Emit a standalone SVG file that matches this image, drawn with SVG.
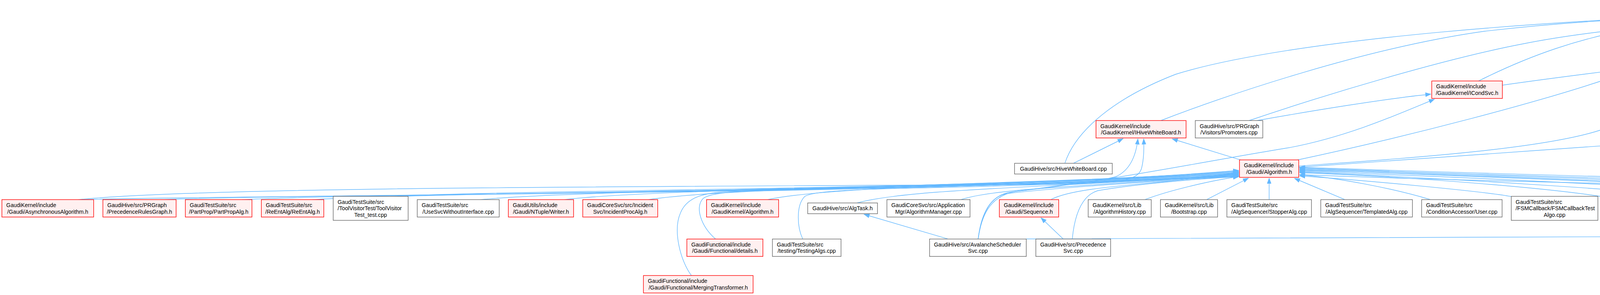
<svg xmlns="http://www.w3.org/2000/svg" width="6476" height="755" viewBox="0 0 6476 755">
<defs>
<marker id="a" markerUnits="userSpaceOnUse" markerWidth="15" markerHeight="11" refX="13.5" refY="5" orient="auto" overflow="visible"><path d="M0,0 L13.5,5 L0,10 Z" fill="#63b8ff" stroke="#63b8ff" stroke-width="1"/></marker>
<style>
.e path{fill:none;stroke:#63b8ff;stroke-width:1.4;marker-end:url(#a)}
rect{stroke-width:1.4}
.w rect{fill:#ffffff;stroke:#666666}
.r rect{fill:#fff0f0;stroke:#ff0000}
.g rect{fill:#999999;stroke:#666666}
text{font-family:"Liberation Sans",Arial,Helvetica,sans-serif;font-size:14.2px;fill:#000000}
.m{text-anchor:middle}
</style>
</defs>
<rect width="6476" height="755" fill="#ffffff"/>
<g id="edges" class="e">
<path d="M206,510.9 C651,499 2133,499 3171,452"/>
<path d="M200,510.9 C500,480 1500,478 2700,472 C2870,468 2912,462 2922,432 C2928,410 2929,385 2928,355.5"/>
<path d="M411,510.9 C825,496 2205,496 3171,450"/>
<path d="M620,510.9 C1003,493 2278,493 3171,448"/>
<path d="M800,510.9 C1156,490 2341,490 3171,446"/>
<path d="M1000,502.5 C1326,486 2411,486 3171,444"/>
<path d="M1230,510.9 C1521,483 2492,483 3171,442"/>
<path d="M1445,510.9 C1704,480 2567,480 3171,440"/>
<path d="M1660,510.9 C1887,476 2642,476 3171,438"/>
<path d="M1965,510.9 C2146,472 2749,472 3171,436"/>
<path d="M1770,705.2 C1742,668 1722,590 1742,545 C1758,505 1800,493 1870,490 C2300,482 2800,468 3171,450"/>
<path d="M1832,611.7 C1795,580 1778,530 1800,508 C1820,492 1900,488 2000,486 C2400,480 2900,465 3171,448"/>
<path d="M2055,611.7 C2040,580 2038,525 2060,503 C2080,488 2200,484 2400,480 C2700,474 3000,460 3171,446"/>
<path d="M2194,519.5 C2341,478 2829,478 3171,444"/>
<path d="M2460,510.9 C2567,475 2922,475 3171,442"/>
<path d="M2690,510.9 C2762,472 3003,472 3171,440"/>
<path d="M2931,510.9 C2990,488 3100,462 3171,452"/>
<path d="M3089,510.9 L3196,456"/>
<path d="M2504,611.7 C2510,560 2528,506 2575,496 C2700,480 3000,462 3171,450"/>
<path d="M2745,611.7 C2750,560 2765,502 2810,488 C2900,472 3060,458 3171,452"/>
<path d="M2427,611.7 L2212,548.5"/>
<path d="M2722,611.7 L2665,557.5"/>
<path d="M2504,611.7 C2512,555 2532,502 2600,490 C2850,462 3100,410 3300,378 C3450,350 3580,292 3672,254"/>
<path d="M2504,611.7 C2512,555 2530,505 2580,493 C2700,476 2820,463 2857,452 C2892,436 2908,400 2913,355.5"/>
<path d="M2748,417.9 L2875,355"/>
<path d="M2726,417.9 C2755,330 2860,248 3010,190 C3300,100 4000,45 4602,32"/>
<path d="M3176,409.3 L3001,355.5"/>
<path d="M2972,308.5 C3150,240 3500,122 3800,80 C4100,45 4400,38 4602,38"/>
<path d="M3198,308.5 C3400,240 3700,150 3900,112 C4100,72 4400,50 4602,44"/>
<path d="M3218,308.5 C3350,285 3550,252 3663,241"/>
<path d="M3322,409.3 C3600,350 3950,260 4150,190 C4350,120 4500,72 4602,50"/>
<path d="M3785,207.3 C3880,160 4050,82 4300,57 C4450,46 4550,46 4602,46"/>
<path d="M3846,218 C4000,196 4300,158 4461,143"/>
<path d="M3325,425 C3600,405 3950,382 4100,332 C4250,282 4420,200 4500,153"/>
<path d="M3325,428 C3700,402 4200,366 4572,340"/>
<path d="M4592,106.3 L4664,52"/>
<path d="M4690,300.1 L4697,52"/>
<path d="M4840,207.3 L4721,52"/>
<path d="M4670,300.1 L4578,153"/>
<path d="M4740,300.1 L4816,254"/>
<path d="M4792,207.3 L4641,153"/>
<path d="M4987,300.1 L4910,254"/>
<path d="M5035,300.1 C5020,215 4900,120 4766,52"/>
<path d="M5204,308.5 C5120,290 5040,270 4966,254"/>
<path d="M5270,308.5 C5180,230 5000,110 4790,50"/>
<path d="M4578,412 C4450,360 4390,220 4430,130 C4460,82 4540,56 4602,48"/>
<path d="M4578,408 C4500,370 4480,250 4540,153"/>
<path d="M4749,409.3 C4815,380 4850,320 4856,254"/>
<path d="M4792,412 C4840,395 4895,375 4935,363"/>
<path d="M5372,425 C5100,412 4750,392 4592,372 C4528,358 4522,250 4548,153"/>
<path d="M5372,420 C5150,405 4950,372 4805,352"/>
<path d="M5372,422 C5150,406 4960,390 4915,358 C4885,330 4868,292 4864,255"/>
<path d="M5457,409.3 C5452,340 5425,290 5390,262 C5250,160 5000,62 4794,40"/>
<path d="M5543,101 C5300,75 5000,45 4794,33"/>
<path d="M5824,106.3 C5790,97 5750,93 5700,90 C5400,72 5100,45 4794,28"/>
<path d="M5816,227 C5650,215 5540,182 5500,132 C5460,85 5100,52 4794,38"/>
<path d="M6335,519.5 C6250,440 6100,330 5964,254"/>
<path d="M6288,519.5 C6100,500 5700,492 5200,487 C4500,480 3700,462 3327,447"/>
<path d="M3662,510.9 C3560,480 3420,455 3327,447"/>
<path d="M3443,510.9 L3314,456.5"/>
<path d="M3249,510.9 L3249,456"/>
<path d="M3869,503 C3800,490 3500,462 3327,450"/>
<path d="M4145,510.9 C4000,482 3600,452 3327,442"/>
<path d="M4399,510.9 C4250,490 3700,456 3327,440"/>
<path d="M4633,510.9 C4450,486 3800,455 3327,438"/>
<path d="M4884,510.9 C4700,486 3900,451 3327,436"/>
<path d="M5227,611.7 C5180,580 5150,522 5100,505 C4700,486 3800,455 3327,434"/>
<path d="M5207,510.9 C5000,486 3900,453 3327,432"/>
<path d="M5583,510.9 C5400,489 4000,456 3327,430"/>
<path d="M5836,510.9 C5600,487 4100,456 3327,428"/>
<path d="M5456,510.9 L5456,456"/>
<path d="M5612,510.9 L5508,456.5"/>
<path d="M5855,510.9 C5750,480 5620,460 5542,450"/>
<path d="M6022,510.9 C5900,476 5680,449 5542,440"/>
<path d="M5308,510.9 L5404,456.5"/>
<path d="M5265,611.7 L5265,557.5"/>
<path d="M5357,633 C5500,628 5700,612 5770,572 C5806,545 5795,492 5742,479 C5680,466 5600,455 5542,447"/>
<path d="M2627,611.5 C3500,609 5500,602 6100,590 C6185,585 6205,530 6192,502 C6165,458 5950,432 5700,406 C5450,382 5250,368 5160,362"/>
<path d="M5862,510.9 C5800,470 5500,422 5300,396 C5230,386 5190,373 5160,364"/>
<path d="M6040,510.9 C5950,462 5600,422 5350,396 C5250,384 5200,373 5160,365"/>
<path d="M5583,510.9 C5300,500 4700,472 4572,456 C4478,432 4460,322 4527,153"/>
</g>
<g id="n_root" class="g"><rect x="4604.4" y="5.1" width="187.7" height="44.6"/><text x="4615.7" y="24.2">GaudiKernel/include</text><text class="m" x="4698.3" y="40.8">/GaudiKernel/DataObjID.h</text></g>
<g id="n_datahandle" class="r"><rect x="4463.3" y="106.3" width="198" height="44.6"/><text x="4474.6" y="125.4">GaudiKernel/include</text><text class="m" x="4562.3" y="142">/GaudiKernel/DataHandle.h</text></g>
<g id="n_renounce" class="r"><rect x="5542.9" y="97.6" width="238.6" height="61.4"/><text x="5554.2" y="116.8">GaudiKernel/include</text><text x="5554.2" y="133.4">/GaudiKernel/RenounceToolInputs</text><text class="m" x="5662.2" y="150">Visitor.h</text></g>
<g id="n_dataobjidcpp" class="w"><rect x="5805.3" y="106.3" width="146.7" height="44.6"/><text x="5816.6" y="125.4">GaudiKernel/src/Lib</text><text class="m" x="5878.6" y="142">/DataObjID.cpp</text></g>
<g id="n_icondsvc" class="r"><rect x="3665.3" y="207.3" width="180.8" height="44.6"/><text x="3676.6" y="226.4">GaudiKernel/include</text><text class="m" x="3755.7" y="243">/GaudiKernel/ICondSvc.h</text></g>
<g id="n_idhh" class="r"><rect x="4735.3" y="207.3" width="243.5" height="44.6"/><text x="4746.6" y="226.4">GaudiKernel/include</text><text class="m" x="4857" y="243">/GaudiKernel/IDataHandleHolder.h</text></g>
<g id="n_idatabroker" class="w"><rect x="5816.3" y="207.3" width="196.5" height="44.6"/><text x="5827.6" y="226.4">GaudiKernel/include</text><text class="m" x="5914.5" y="243">/GaudiKernel/IDataBroker.h</text></g>
<g id="n_ihwb" class="r"><rect x="2805.7" y="308.5" width="230.7" height="44.6"/><text x="2817" y="327.6">GaudiKernel/include</text><text class="m" x="2921" y="344.2">/GaudiKernel/IHiveWhiteBoard.h</text></g>
<g id="n_promoters" class="w"><rect x="3059.9" y="308.5" width="172.8" height="44.6"/><text x="3071.2" y="327.6">GaudiHive/src/PRGraph</text><text class="m" x="3146.3" y="344.2">/Visitors/Promoters.cpp</text></g>
<g id="n_dhhbase" class="w"><rect x="4574.8" y="300.1" width="228.3" height="61.4"/><text x="4586.1" y="319.3">GaudiKernel/include</text><text x="4586.1" y="335.9">/GaudiKernel/DataHandleHolder</text><text class="m" x="4689" y="352.5">Base.h</text></g>
<g id="n_dhhvisitor" class="w"><rect x="4929.6" y="300.1" width="228.3" height="61.4"/><text x="4940.9" y="319.3">GaudiKernel/include</text><text x="4940.9" y="335.9">/GaudiKernel/DataHandleHolder</text><text class="m" x="5043.8" y="352.5">Visitor.h</text></g>
<g id="n_dhfinder" class="r"><rect x="5181.3" y="308.5" width="236.6" height="44.6"/><text x="5192.6" y="327.6">GaudiKernel/include</text><text class="m" x="5299.6" y="344.2">/GaudiKernel/DataHandleFinder.h</text></g>
<g id="n_hivewbcpp" class="w"><rect x="2597.3" y="417.9" width="250.1" height="27.5"/><text class="m" x="2722.4" y="436.7">GaudiHive/src/HiveWhiteBoard.cpp</text></g>
<g id="n_gaudialg" class="r"><rect x="3173.1" y="409.3" width="151.6" height="44.6"/><text x="3184.4" y="428.4">GaudiKernel/include</text><text class="m" x="3248.9" y="445">/Gaudi/Algorithm.h</text></g>
<g id="n_dhhvcpp" class="w"><rect x="4578.3" y="409.3" width="213.5" height="44.6"/><text x="4589.6" y="428.4">GaudiKernel/src/Lib</text><text class="m" x="4685" y="445">/DataHandleHolderVisitor.cpp</text></g>
<g id="n_algtoolh" class="r"><rect x="5372" y="409.3" width="167.5" height="44.6"/><text x="5383.3" y="428.4">GaudiKernel/include</text><text class="m" x="5455.8" y="445">/GaudiKernel/AlgTool.h</text></g>
<g id="n_async" class="r"><rect x="4.8" y="510.9" width="234.9" height="44.6"/><text x="16.1" y="530">GaudiKernel/include</text><text class="m" x="122.3" y="546.6">/Gaudi/AsynchronousAlgorithm.h</text></g>
<g id="n_prgraph" class="r"><rect x="263.4" y="510.9" width="187.4" height="44.6"/><text x="274.7" y="530">GaudiHive/src/PRGraph</text><text class="m" x="357.1" y="546.6">/PrecedenceRulesGraph.h</text></g>
<g id="n_partprop" class="r"><rect x="474.5" y="510.9" width="170.5" height="44.6"/><text x="485.8" y="530">GaudiTestSuite/src</text><text class="m" x="559.8" y="546.6">/PartProp/PartPropAlg.h</text></g>
<g id="n_reent" class="r"><rect x="669.1" y="510.9" width="159.8" height="44.6"/><text x="680.4" y="530">GaudiTestSuite/src</text><text class="m" x="749" y="546.6">/ReEntAlg/ReEntAlg.h</text></g>
<g id="n_toolvisitor" class="w"><rect x="853" y="502.5" width="191.8" height="61.4"/><text x="864.3" y="521.7">GaudiTestSuite/src</text><text x="864.3" y="538.3">/ToolVisitorTest/ToolVisitor</text><text class="m" x="948.9" y="554.9">Test_test.cpp</text></g>
<g id="n_usesvc" class="w"><rect x="1068.2" y="510.9" width="209.8" height="44.6"/><text x="1079.5" y="530">GaudiTestSuite/src</text><text class="m" x="1173.1" y="546.6">/UseSvcWithoutInterface.cpp</text></g>
<g id="n_writer" class="r"><rect x="1301.4" y="510.9" width="167" height="44.6"/><text x="1312.7" y="530">GaudiUtils/include</text><text class="m" x="1384.9" y="546.6">/Gaudi/NTuple/Writer.h</text></g>
<g id="n_incproc" class="r"><rect x="1491.8" y="510.9" width="191.9" height="44.6"/><text x="1503.1" y="530">GaudiCoreSvc/src/Incident</text><text class="m" x="1587.8" y="546.6">Svc/IncidentProcAlg.h</text></g>
<g id="n_gkalg" class="r"><rect x="1808.7" y="510.9" width="184.6" height="44.6"/><text x="1820" y="530">GaudiKernel/include</text><text class="m" x="1901" y="546.6">/GaudiKernel/Algorithm.h</text></g>
<g id="n_algtask" class="w"><rect x="2067.7" y="519.45" width="178.7" height="27.5"/><text class="m" x="2157" y="538.3">GaudiHive/src/AlgTask.h</text></g>
<g id="n_algmgr" class="w"><rect x="2270.5" y="510.9" width="212.8" height="44.6"/><text x="2281.8" y="530">GaudiCoreSvc/src/Application</text><text class="m" x="2376.9" y="546.6">Mgr/AlgorithmManager.cpp</text></g>
<g id="n_sequence" class="r"><rect x="2558.4" y="510.9" width="151.9" height="44.6"/><text x="2569.7" y="530">GaudiKernel/include</text><text class="m" x="2634.4" y="546.6">/Gaudi/Sequence.h</text></g>
<g id="n_alghist" class="w"><rect x="2785.7" y="510.9" width="161.5" height="44.6"/><text x="2797" y="530">GaudiKernel/src/Lib</text><text class="m" x="2866.5" y="546.6">/AlgorithmHistory.cpp</text></g>
<g id="n_bootstrap" class="w"><rect x="2970.7" y="510.9" width="146.3" height="44.6"/><text x="2982" y="530">GaudiKernel/src/Lib</text><text class="m" x="3043.9" y="546.6">/Bootstrap.cpp</text></g>
<g id="n_stopper" class="w"><rect x="3140.8" y="510.9" width="216.6" height="44.6"/><text x="3152.1" y="530">GaudiTestSuite/src</text><text class="m" x="3249.1" y="546.6">/AlgSequencer/StopperAlg.cpp</text></g>
<g id="n_templated" class="w"><rect x="3381.2" y="510.9" width="234.5" height="44.6"/><text x="3392.5" y="530">GaudiTestSuite/src</text><text class="m" x="3498.5" y="546.6">/AlgSequencer/TemplatedAlg.cpp</text></g>
<g id="n_conduser" class="w"><rect x="3639.4" y="510.9" width="206" height="44.6"/><text x="3650.7" y="530">GaudiTestSuite/src</text><text class="m" x="3742.4" y="546.6">/ConditionAccessor/User.cpp</text></g>
<g id="n_fsm" class="w"><rect x="3868.8" y="502.5" width="221.8" height="61.4"/><text x="3880.1" y="521.7">GaudiTestSuite/src</text><text x="3880.1" y="538.3">/FSMCallback/FSMCallbackTest</text><text class="m" x="3979.7" y="554.9">Algo.cpp</text></g>
<g id="n_histwriter" class="w"><rect x="4114.7" y="510.9" width="231.5" height="44.6"/><text x="4126" y="530">GaudiTestSuite/src</text><text class="m" x="4230.5" y="546.6">/FileSvc/HistogramWriterAlg.cpp</text></g>
<g id="n_ntuplewriter" class="w"><rect x="4370.3" y="510.9" width="208" height="44.6"/><text x="4381.6" y="530">GaudiTestSuite/src</text><text class="m" x="4474.3" y="546.6">/FileSvc/NTupleWriterAlg.cpp</text></g>
<g id="n_counterhistos" class="w"><rect x="4602.4" y="510.9" width="223.8" height="44.6"/><text x="4613.7" y="530">GaudiTestSuite/src</text><text class="m" x="4714.3" y="546.6">/Histograms/CounterHistos.cpp</text></g>
<g id="n_ntupleprod" class="w"><rect x="4849.6" y="510.9" width="249" height="44.6"/><text x="4860.9" y="530">GaudiTestSuite/src</text><text class="m" x="4974.1" y="546.6">/NTuple/NTupleWriterProducers.cpp</text></g>
<g id="n_historysvch" class="w"><rect x="5173" y="510.9" width="183.9" height="44.6"/><text x="5184.3" y="530">GaudiMonitor/src/History</text><text class="m" x="5265" y="546.6">Svc.h</text></g>
<g id="n_genconf" class="w"><rect x="5380.3" y="510.9" width="150.6" height="44.6"/><text x="5391.6" y="530">GaudiKernel/src/Util</text><text class="m" x="5455.6" y="546.6">/genconf.cpp</text></g>
<g id="n_dohb" class="w"><rect x="5555.3" y="510.9" width="203.5" height="44.6"/><text x="5566.6" y="530">GaudiKernel/src/Lib</text><text class="m" x="5657" y="546.6">/DataObjectHandleBase.cpp</text></g>
<g id="n_algcpp" class="w"><rect x="5832.9" y="510.9" width="147" height="44.6"/><text x="5844.2" y="530">GaudiKernel/src/Lib</text><text class="m" x="5906.4" y="546.6">/Algorithm.cpp</text></g>
<g id="n_algtoolcpp" class="w"><rect x="6003.6" y="510.9" width="146.7" height="44.6"/><text x="6014.9" y="530">GaudiKernel/src/Lib</text><text class="m" x="6077" y="546.6">/AlgTool.cpp</text></g>
<g id="n_hivedatabroker" class="w"><rect x="6224.8" y="519.45" width="245.8" height="27.5"/><text class="m" x="6347.7" y="538.3">GaudiHive/src/HiveDataBroker.cpp</text></g>
<g id="n_details" class="r"><rect x="1758.4" y="611.7" width="194.6" height="44.6"/><text x="1769.7" y="630.8">GaudiFunctional/include</text><text class="m" x="1855.7" y="647.4">/Gaudi/Functional/details.h</text></g>
<g id="n_testingalgs" class="w"><rect x="1977.4" y="611.7" width="175.6" height="44.6"/><text x="1988.7" y="630.8">GaudiTestSuite/src</text><text class="m" x="2065.2" y="647.4">/testing/TestingAlgs.cpp</text></g>
<g id="n_avalanche" class="w"><rect x="2379.7" y="611.7" width="247.6" height="44.6"/><text x="2391" y="630.8">GaudiHive/src/AvalancheScheduler</text><text class="m" x="2503.5" y="647.4">Svc.cpp</text></g>
<g id="n_precedencesvc" class="w"><rect x="2651.7" y="611.7" width="191.6" height="44.6"/><text x="2663" y="630.8">GaudiHive/src/Precedence</text><text class="m" x="2747.5" y="647.4">Svc.cpp</text></g>
<g id="n_historysvccpp" class="w"><rect x="5173" y="611.7" width="183.9" height="44.6"/><text x="5184.3" y="630.8">GaudiMonitor/src/History</text><text class="m" x="5265" y="647.4">Svc.cpp</text></g>
<g id="n_merging" class="r"><rect x="1647.2" y="705.2" width="280.7" height="44.6"/><text x="1658.5" y="724.3">GaudiFunctional/include</text><text class="m" x="1787.5" y="740.9">/Gaudi/Functional/MergingTransformer.h</text></g>
</svg>
